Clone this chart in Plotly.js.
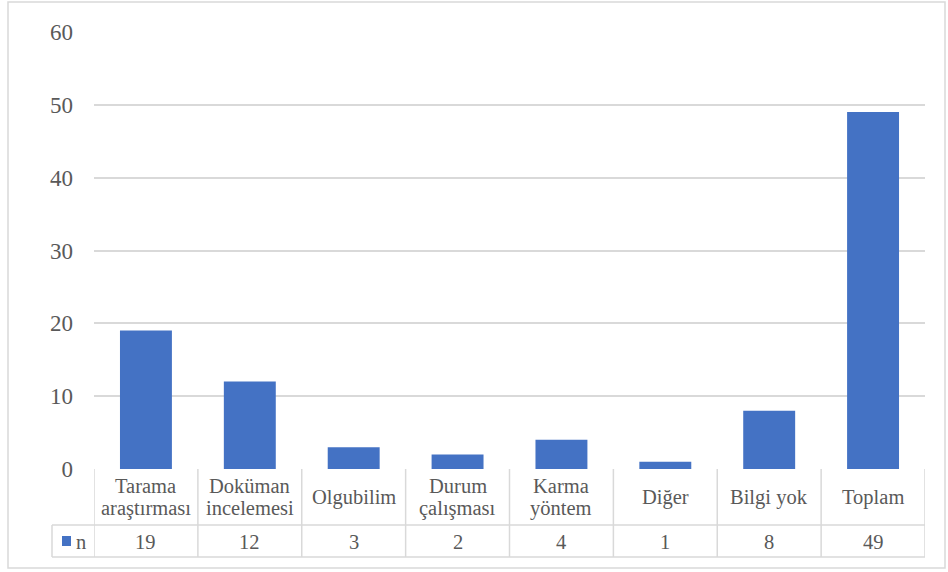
<!DOCTYPE html>
<html><head><meta charset="utf-8">
<script src="https://cdn.plot.ly/plotly-3.0.1.min.js"></script>
<style>body{margin:0;padding:0;background:#fff}#c{width:948px;height:572px}</style>
</head><body><div id="c"></div>
<script>
const categories = ["Tarama<br>araştırması","Doküman<br>incelemesi","Olgubilim","Durum<br>çalışması","Karma<br>yöntem","Diğer","Bilgi yok","Toplam"];
const values = [19,12,3,2,4,1,8,49];
const seriesName = "n";
const yTicks = [0,10,20,30,40,50,60];

const W=948,H=572,L=94,R=23,T=32,B=103;
const pw=W-L-R, ph=H-T-B;
const px2x = p => (p-L)/pw;
const py2y = p => (H-B-p)/ph;
const xIdx = categories.map((_,i)=>i);
const n = categories.length;
const grey = "#595959", lineC = "#d9d9d9";
const font = "Liberation Serif, Times New Roman, serif";

const yRow1 = py2y(525), yRow2 = py2y(557);
const shapes = [];
shapes.push({type:"rect",xref:"paper",yref:"paper",x0:px2x(8),x1:px2x(945),y0:py2y(568),y1:py2y(2),line:{color:lineC,width:1.5}});
for(let i=0;i<=n;i++){
  shapes.push({type:"line",xref:"x",yref:"paper",x0:i-0.5,x1:i-0.5,y0:0,y1:yRow2,line:{color:lineC,width:1.5}});
}
shapes.push({type:"line",xref:"paper",yref:"paper",x0:px2x(52),x1:px2x(52),y0:yRow1,y1:yRow2,line:{color:lineC,width:1.5}});
shapes.push({type:"line",xref:"paper",yref:"paper",x0:px2x(52),x1:1,y0:yRow1,y1:yRow1,line:{color:lineC,width:1.5}});
shapes.push({type:"line",xref:"paper",yref:"paper",x0:px2x(52),x1:1,y0:yRow2,y1:yRow2,line:{color:lineC,width:1.5}});
shapes.push({type:"rect",xref:"paper",yref:"paper",x0:px2x(62),x1:px2x(71),y0:py2y(546),y1:py2y(536),fillcolor:"#4472C4",line:{width:0}});

const annotations = [];
const tf = {family:font,size:20.5,color:grey};
categories.forEach((c,i)=>{
  const lines = c.split("<br>");
  const ys = lines.length===2 ? [486,508] : [498];
  lines.forEach((ln,k)=>{
    annotations.push({xref:"x",yref:"paper",x:i,y:py2y(ys[k]),text:ln,showarrow:false,font:tf,xanchor:"center",yanchor:"middle"});
  });
  annotations.push({xref:"x",yref:"paper",x:i,y:py2y(542),text:String(values[i]),showarrow:false,font:tf,xanchor:"center",yanchor:"middle"});
});
annotations.push({xref:"paper",yref:"paper",x:px2x(74),y:py2y(542),text:seriesName,showarrow:false,font:tf,xanchor:"left",yanchor:"middle"});

const data = [{type:"bar",x:xIdx,y:values,marker:{color:"#4472C4"},name:seriesName,hoverinfo:"none"}];
const layout = {
  width:W,height:H,margin:{l:L,r:R,t:T,b:B},
  paper_bgcolor:"#fff",plot_bgcolor:"#fff",showlegend:false,bargap:0.5,
  xaxis:{range:[-0.5,n-0.5],showticklabels:false,showgrid:false,zeroline:false,showline:false,ticks:""},
  yaxis:{range:[0,60],tickvals:yTicks,showgrid:true,gridcolor:lineC,gridwidth:2,zeroline:false,showline:false,
    tickfont:{family:font,size:23,color:grey},ticklabelstandoff:20},
  shapes:shapes,annotations:annotations
};
Plotly.newPlot("c",data,layout,{staticPlot:true});
</script></body></html>
